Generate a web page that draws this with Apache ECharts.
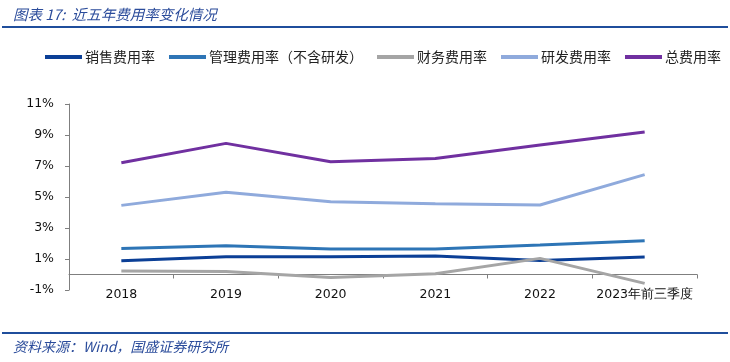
<!DOCTYPE html>
<html><head><meta charset="utf-8">
<script src="https://cdn.jsdelivr.net/npm/echarts@6/dist/echarts.min.js"></script>
<style>html,body{margin:0;padding:0;background:#fff}#c{width:730px;height:362px}</style>
</head><body><div id="c"></div>
<script>
const categories = ['2018','2019','2020','2021','2022','2023年前三季度'];
const sales = [0.89, 1.15, 1.15, 1.19, 0.91, 1.13];
const admin = [1.67, 1.86, 1.65, 1.65, 1.90, 2.18];
const finance = [0.23, 0.20, -0.20, 0.05, 1.04, -0.57];
const rnd = [4.46, 5.30, 4.70, 4.57, 4.48, 6.44];
const total = [7.21, 8.46, 7.28, 7.49, 8.35, 9.19];
const seriesNames = ['销售费用率','管理费用率（不含研发）','财务费用率','研发费用率','总费用率'];
const yTicks = [-1, 1, 3, 5, 7, 9, 11];
const colors = ['#0B3F96','#2E75B6','#A5A5A5','#8FAADC','#7030A0'];
const values = [sales, admin, finance, rnd, total];

const chart = echarts.init(document.getElementById('c'));
chart.setOption({
  animation: false,
  color: colors,
  title: [{
    text: '图表 17:  近五年费用率变化情况', left: 8, top: 2,
    textStyle: {fontFamily: 'Noto Sans CJK SC', fontStyle: 'italic', fontWeight: 'normal', fontSize: 14.5, color: '#2B4C9B'}
  },{
    text: '资料来源：Wind，国盛证券研究所', left: 8, top: 335,
    textStyle: {fontFamily: 'Noto Sans CJK SC', fontStyle: 'italic', fontWeight: 'normal', fontSize: 14, color: '#2B4C9B'}
  }],
  graphic: [
    {type: 'rect', shape: {x: 2, y: 26, width: 726, height: 2}, style: {fill: '#1F4E9C'}},
    {type: 'rect', shape: {x: 2, y: 332, width: 726, height: 2}, style: {fill: '#1F4E9C'}}
  ],
  legend: {
    top: 45, left: 40, itemWidth: 37, itemHeight: 4, itemGap: 14, icon: 'rect',
    textStyle: {fontFamily: 'Noto Sans CJK SC', fontSize: 14, color: '#222', padding: [0,0,0,-2]},
    data: seriesNames
  },
  grid: {left: 69, right: 33, top: 104, bottom: 72},
  xAxis: {
    type: 'category', data: categories, boundaryGap: true,
    axisLine: {onZero: true, lineStyle: {color: '#7F7F7F', width: 1}},
    axisTick: {show: true, length: 4, inside: false, lineStyle: {color: '#7F7F7F'}},
    axisLabel: {fontFamily: 'DejaVu Sans', fontSize: 12.5, color: '#111', margin: -2, interval: 0}
  },
  yAxis: {
    type: 'value', min: yTicks[0], max: yTicks[yTicks.length-1], interval: 2,
    splitLine: {show: false},
    axisLine: {show: true, lineStyle: {color: '#7F7F7F'}},
    axisTick: {show: true, length: 4, lineStyle: {color: '#7F7F7F'}},
    axisLabel: {fontFamily: 'DejaVu Sans', fontSize: 12.5, color: '#111', margin: 15, formatter: v => v + '%'}
  },
  series: seriesNames.map((n, i) => ({
    name: n, type: 'line', data: values[i], symbol: 'none',
    lineStyle: {width: 3, color: colors[i]}, itemStyle: {color: colors[i]}
  }))
});
</script></body></html>
